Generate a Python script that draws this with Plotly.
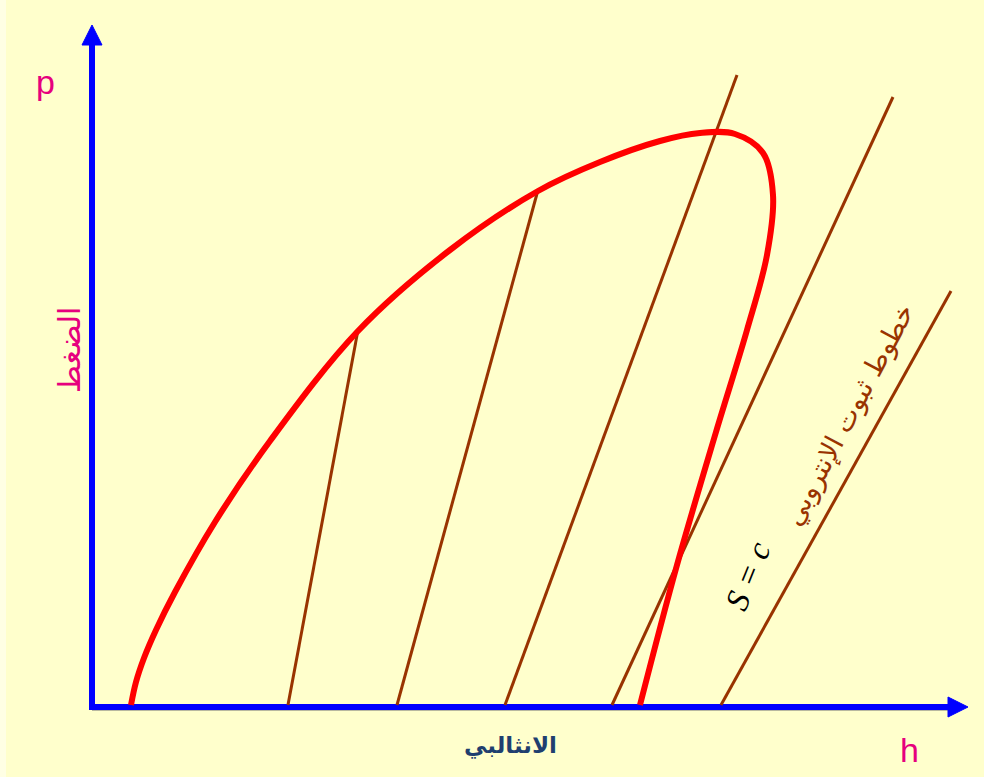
import plotly.graph_objects as go

# ---- data (chart units: h to the right of the p-axis, p above the h-axis) ----
# saturation dome (red curve)
dome_h = [39, 44, 52, 64, 83, 123, 178, 266, 358, 446, 508, 568, 608, 643, 671, 681, 675, 655, 624, 585, 548]
dome_p = [2, 25, 49, 77, 115, 185, 266, 376, 457, 516, 545, 566, 574, 573, 554, 512, 452, 377, 275, 142, 2]

# constant-entropy lines (start on the h axis, end at the top)
ise_h0 = [196, 305, 413, 520, 629]
ise_p0 = [2, 2, 2, 2, 2]
ise_h1 = [266, 446, 645, 801, 859]
ise_p1 = [377, 517, 632, 610, 416]

# axes extents
h_axis_end = 876
p_axis_end = 682

# labels
lbl_p = "p"
lbl_h = "h"
lbl_pressure = "الضغط"
lbl_enthalpy = "الانثالبي"
lbl_isentropes = "خطوط ثبوت الإنتروبي"
lbl_sc = "S = c"

BG = "#FFFFCC"
BLUE = "#0000FF"
RED = "#FF0000"
BROWN = "#993300"
PINK = "#E6007E"

fig = go.Figure()

# axis shadows
fig.add_trace(go.Scatter(x=[0, h_axis_end - 18], y=[-2.5, -2.5], mode="lines",
                         line=dict(color="#B8B8A0", width=3), hoverinfo="skip"))
# axes
fig.add_trace(go.Scatter(x=[0, 0, h_axis_end - 18], y=[p_axis_end - 18, 0, 0], mode="lines",
                         line=dict(color=BLUE, width=6), hoverinfo="skip"))
# arrow heads
fig.add_trace(go.Scatter(x=[-10, 10, 0, -10], y=[p_axis_end - 20, p_axis_end - 20, p_axis_end, p_axis_end - 20],
                         mode="lines", fill="toself", fillcolor=BLUE,
                         line=dict(color=BLUE, width=1), hoverinfo="skip"))
fig.add_trace(go.Scatter(x=[h_axis_end - 20, h_axis_end - 20, h_axis_end, h_axis_end - 20], y=[10, -10, 0, 10],
                         mode="lines", fill="toself", fillcolor=BLUE,
                         line=dict(color=BLUE, width=1), hoverinfo="skip"))

# isentropes
for a, b, c, d in zip(ise_h0, ise_p0, ise_h1, ise_p1):
    fig.add_trace(go.Scatter(x=[a, c], y=[b, d], mode="lines",
                             line=dict(color=BROWN, width=3), hoverinfo="skip"))

# dome
fig.add_trace(go.Scatter(x=dome_h, y=dome_p, mode="lines",
                         line=dict(color=RED, width=6, shape="spline", smoothing=1.0),
                         hoverinfo="skip"))

annotations = [
    dict(x=-47, y=625, text=lbl_p, font=dict(family="Liberation Sans", size=34, color=PINK)),
    dict(x=817, y=-43, text=lbl_h, font=dict(family="Liberation Sans", size=34, color=PINK)),
    dict(x=-23, y=357, text=lbl_pressure, textangle=-90,
         font=dict(family="DejaVu Sans", size=30, color=PINK)),
    dict(x=418, y=-38, text="<b>" + lbl_enthalpy + "</b>",
         font=dict(family="DejaVu Sans", size=23, color="#1F3F6F")),
    dict(x=757, y=292, text=lbl_isentropes, textangle=-62,
         font=dict(family="DejaVu Sans", size=27, color=BROWN)),
    dict(x=656, y=131, text="<i>" + lbl_sc + "</i>", textangle=-68,
         font=dict(family="Liberation Serif", size=33, color="black")),
]
for an in annotations:
    an.update(xref="x", yref="y", showarrow=False)

fig.update_layout(
    width=984, height=777,
    margin=dict(l=0, r=0, t=0, b=0),
    paper_bgcolor=BG, plot_bgcolor=BG,
    showlegend=False,
    annotations=annotations,
    xaxis=dict(range=[-92, 892], visible=False, fixedrange=True),
    yaxis=dict(range=[-70, 707], visible=False, fixedrange=True),
    shapes=[dict(type="rect", xref="paper", yref="paper", x0=0, x1=6 / 984, y0=0, y1=1,
                 fillcolor="#FFFFE4", line=dict(width=0), layer="below")],
)

fig.write_html("out.html", config={"displayModeBar": False},
               post_script="document.body.style.margin='0';document.body.style.overflow='hidden';")
